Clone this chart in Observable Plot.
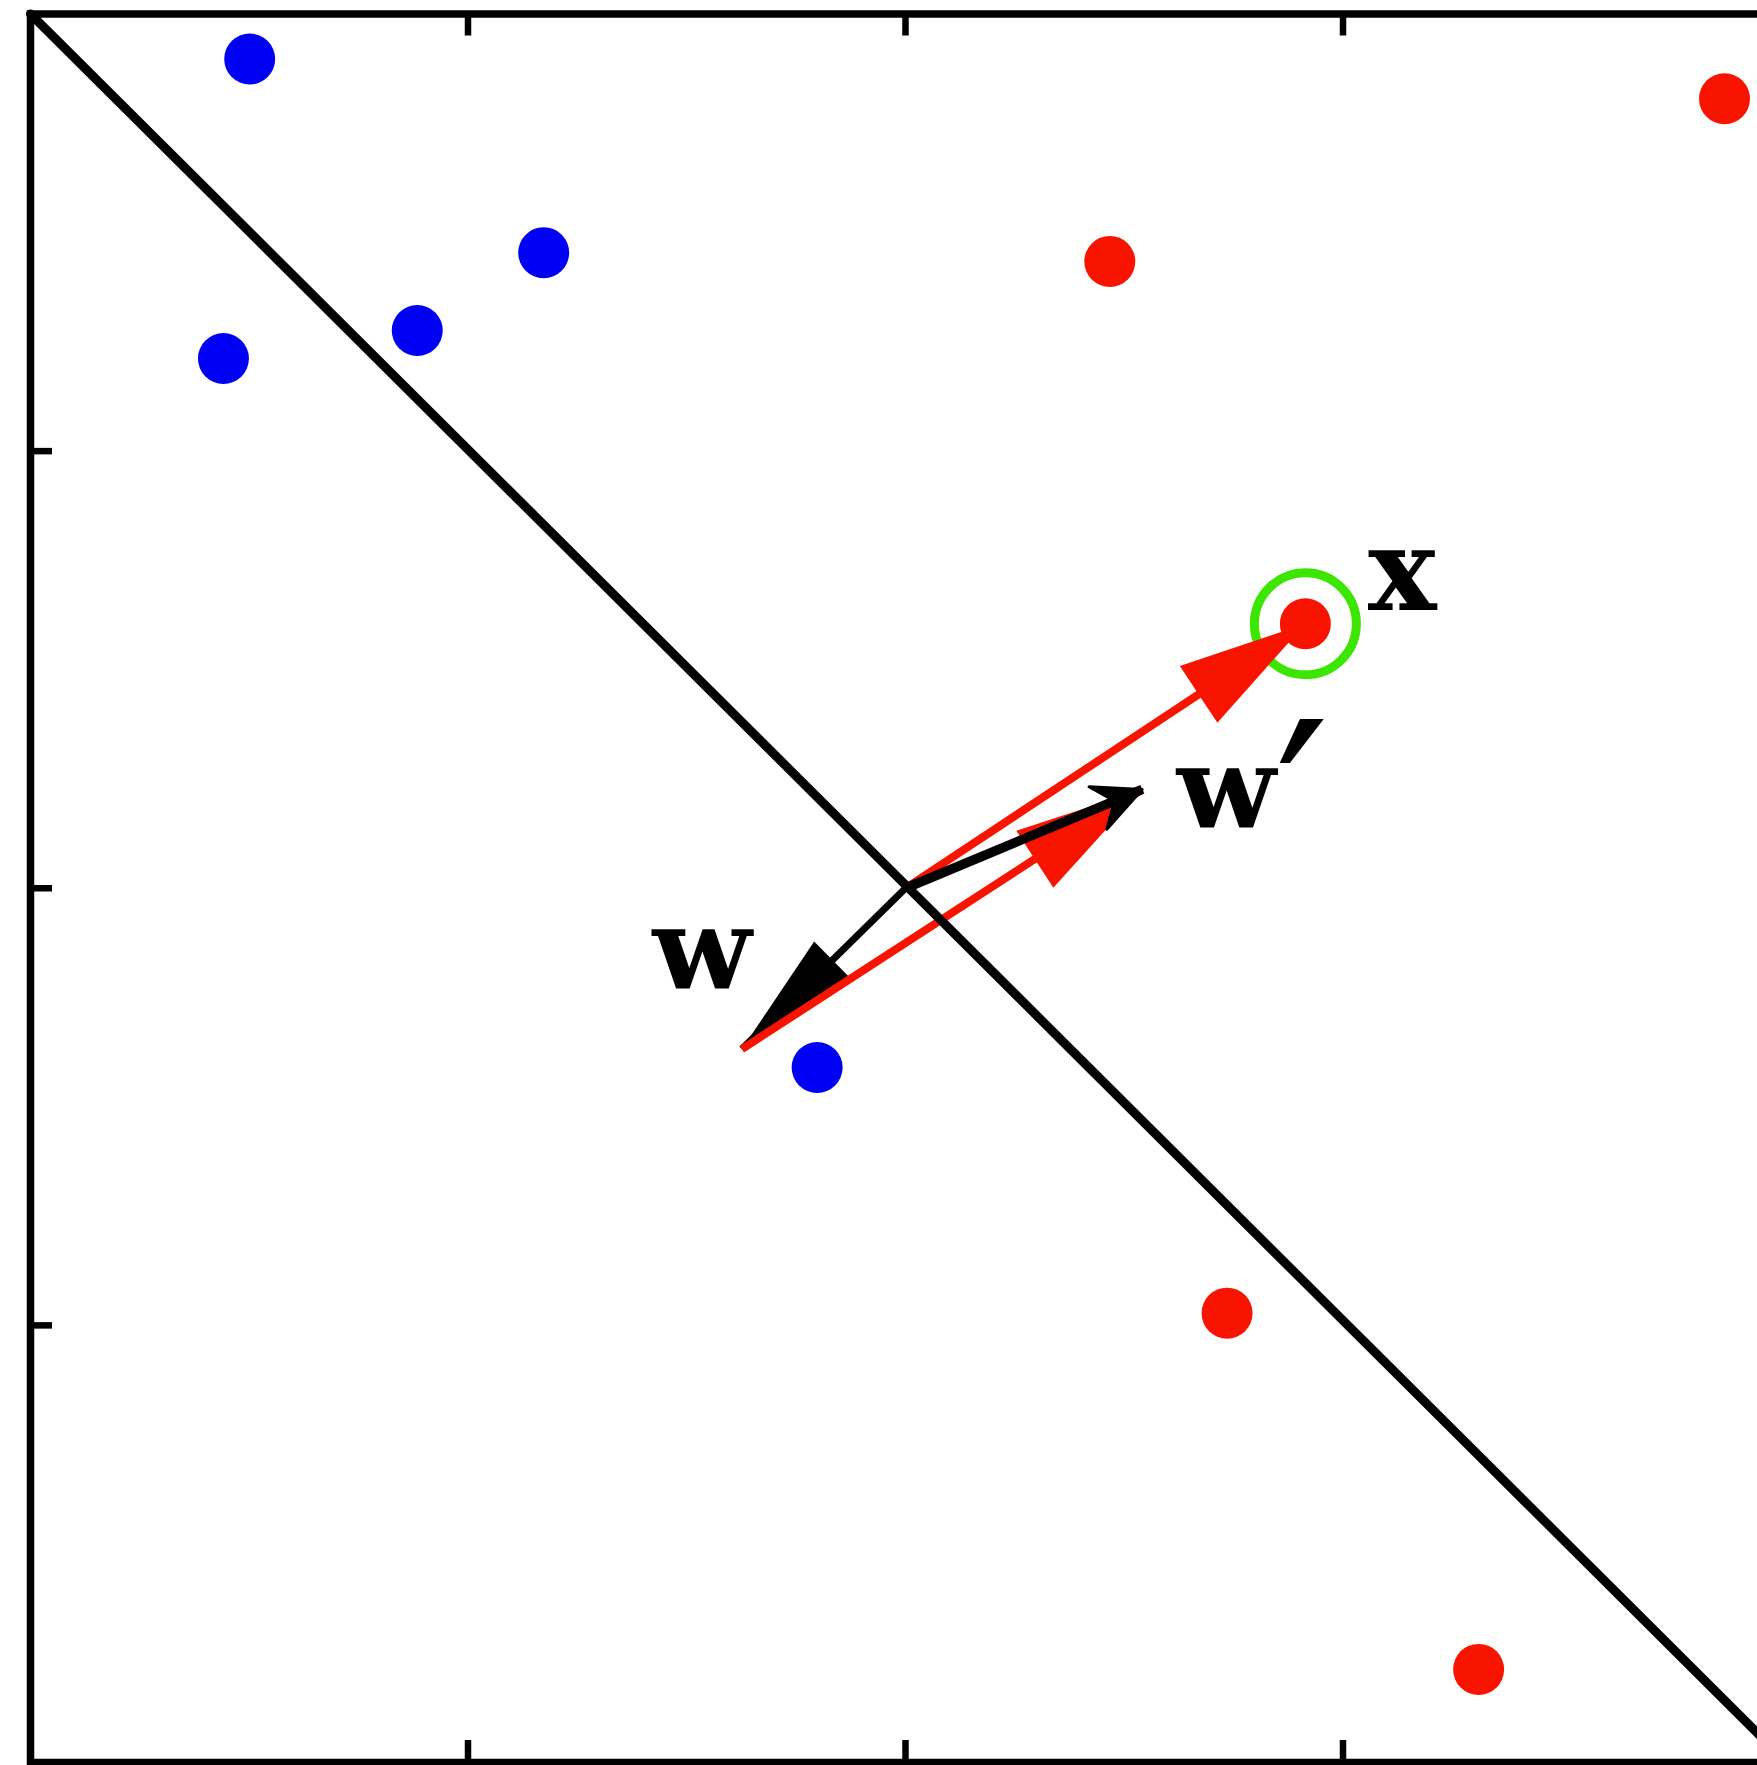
<!DOCTYPE html>
<html>
<head>
<meta charset="utf-8">
<script src="https://cdn.jsdelivr.net/npm/d3@7"></script>
<script src="https://cdn.jsdelivr.net/npm/@observablehq/plot@0.6"></script>
<style>
  html, body { margin: 0; padding: 0; background: white; overflow: hidden; }
  #chart svg { display: block; overflow: hidden; }
</style>
</head>
<body>
<div id="chart"></div>
<script>
// ---- data ----
const blueX = [-1.499, -1.559, -1.116, -0.827, -0.202];
const blueY = [1.897, 1.212, 1.276, 1.454, -0.410];
const redX = [1.872, 0.467, 0.914, 0.735, 1.310];
const redY = [1.806, 1.434, 0.605, -0.972, -1.787];
const highlightIndex = 2;              // the red point labelled x

const boundaryX = [-2, 2];             // decision boundary
const boundaryY = [2, -1.985];

const xTicks = [-1, 0, 1];
const yTicks = [-1, 0, 1];

const wVec = [-0.374, -0.368];         // current weight vector w
const xVec = [0.914, 0.605];           // misclassified point x
const wPrimeVec = [0.541, 0.226];      // updated weight w' = w + x
const origin = [0, 0];

const labelW = "w";
const labelWPrime = "w";
const labelPrime = "′";
const labelX = "x";

// ---- tables built from the arrays ----
const blue = blueX.map((x, i) => ({x, y: blueY[i]}));
const red = redX.map((x, i) => ({x, y: redY[i]}));
const boundary = boundaryX.map((x, i) => ({x, y: boundaryY[i]}));
const highlighted = [red[highlightIndex]];

const seg = (a, b) => ({x1: a[0], y1: a[1], x2: b[0], y2: b[1], dx: b[0] - a[0], dy: b[1] - a[1]});
const redArrows = [seg(origin, xVec), seg(wVec, wPrimeVec)];
const blackW = [seg(origin, wVec)];
const blackWPrime = [seg(origin, wPrimeVec)];

const RED = "#f91400";
const BLUE = "#0000f4";
const GREEN = "#3de600";

// arrowhead drawn pointing up with its tip at the symbol origin
function head(len, half, notch) {
  return {
    draw(ctx) {
      ctx.moveTo(0, 0);
      ctx.lineTo(half, len);
      ctx.lineTo(0, notch);
      ctx.lineTo(-half, len);
      ctx.closePath();
    }
  };
}
const rot = d => Math.atan2(d.dx, d.dy) * 180 / Math.PI;

const W = 1757, H = 1765;
const mTop = 13.5, mBottom = 3, mLeft = 30, mRight = -23;
const frameH = H - mTop - mBottom;
const frameW = W - mLeft - mRight;
const tickLen = 22;
const font = "DejaVu Serif";

const chart = Plot.plot({
  width: W,
  height: H,
  marginTop: mTop,
  marginBottom: mBottom,
  marginLeft: mLeft,
  marginRight: mRight,
  x: {domain: [-2, 2], axis: null},
  y: {domain: [-2, 2], axis: null},
  style: {background: "white"},
  marks: [
    // inward ticks
    Plot.ruleX(xTicks, {x: d => d, insetBottom: frameH - tickLen, stroke: "black", strokeWidth: 6.5}),
    Plot.ruleX(xTicks, {x: d => d, insetTop: frameH - tickLen, stroke: "black", strokeWidth: 6.5}),
    Plot.ruleY(yTicks, {y: d => d, insetRight: frameW - tickLen, stroke: "black", strokeWidth: 6.5}),
    Plot.ruleY(yTicks, {y: d => d, insetLeft: frameW - tickLen, stroke: "black", strokeWidth: 6.5}),
    // green ring around x
    Plot.dot(highlighted, {x: "x", y: "y", r: 51, fill: "none", stroke: GREEN, strokeWidth: 9}),
    // w (black)
    Plot.link(blackW, {x1: "x1", y1: "y1", x2: "x2", y2: "y2", stroke: "black", strokeWidth: 7}),
    Plot.dot(blackW, {x: "x2", y: "y2", rotate: rot, symbol: head(127, 26, 127), r: 1, fill: "black", stroke: "none"}),
    // x vectors (red)
    Plot.link(redArrows, {x1: "x1", y1: "y1", x2: "x2", y2: "y2", stroke: RED, strokeWidth: 8}),
    Plot.dot(redArrows, {x: "x2", y: "y2", rotate: rot, symbol: head(128, 34, 128), r: 1, fill: RED, stroke: "none"}),
    // decision boundary
    Plot.line(boundary, {x: "x", y: "y", stroke: "black", strokeWidth: 9}),
    // w' (black)
    Plot.link(blackWPrime, {x1: "x1", y1: "y1", x2: "x2", y2: "y2", stroke: "black", strokeWidth: 9.5}),
    Plot.dot(blackWPrime, {x: "x2", y: "y2", rotate: rot, symbol: head(48, 23, 30), r: 1, fill: "black", stroke: "black", strokeWidth: 3, strokeLinejoin: "round"}),
    // data points
    Plot.dot(blue, {x: "x", y: "y", r: 25.5, fill: BLUE, stroke: "none"}),
    Plot.dot(red, {x: "x", y: "y", r: 25.5, fill: RED, stroke: "none"}),
    // frame
    Plot.frame({stroke: "black", strokeWidth: 7.5}),
    // labels
    Plot.text([wVec], {x: d => d[0], y: d => d[1], text: () => labelW, dx: -40, dy: -97,
      fontFamily: font, fontWeight: "bold", fontSize: 115, fill: "black", lineAnchor: "middle", textAnchor: "middle"}),
    Plot.text([wPrimeVec], {x: d => d[0], y: d => d[1], text: () => labelWPrime, dx: 84, dy: 2,
      fontFamily: font, fontWeight: "bold", fontSize: 115, fill: "black", lineAnchor: "middle", textAnchor: "middle"}),
    Plot.text([wPrimeVec], {x: d => d[0], y: d => d[1], text: () => labelPrime, dx: 160, dy: 29,
      fontFamily: "DejaVu Sans", fontWeight: "normal", fontSize: 240, fill: "black", lineAnchor: "middle", textAnchor: "middle"}),
    Plot.text([xVec], {x: d => d[0], y: d => d[1], text: () => labelX, dx: 97, dy: -51,
      fontFamily: font, fontWeight: "bold", fontSize: 115, fill: "black", lineAnchor: "middle", textAnchor: "middle"})
  ]
});
document.getElementById("chart").appendChild(chart);
</script>
</body>
</html>
